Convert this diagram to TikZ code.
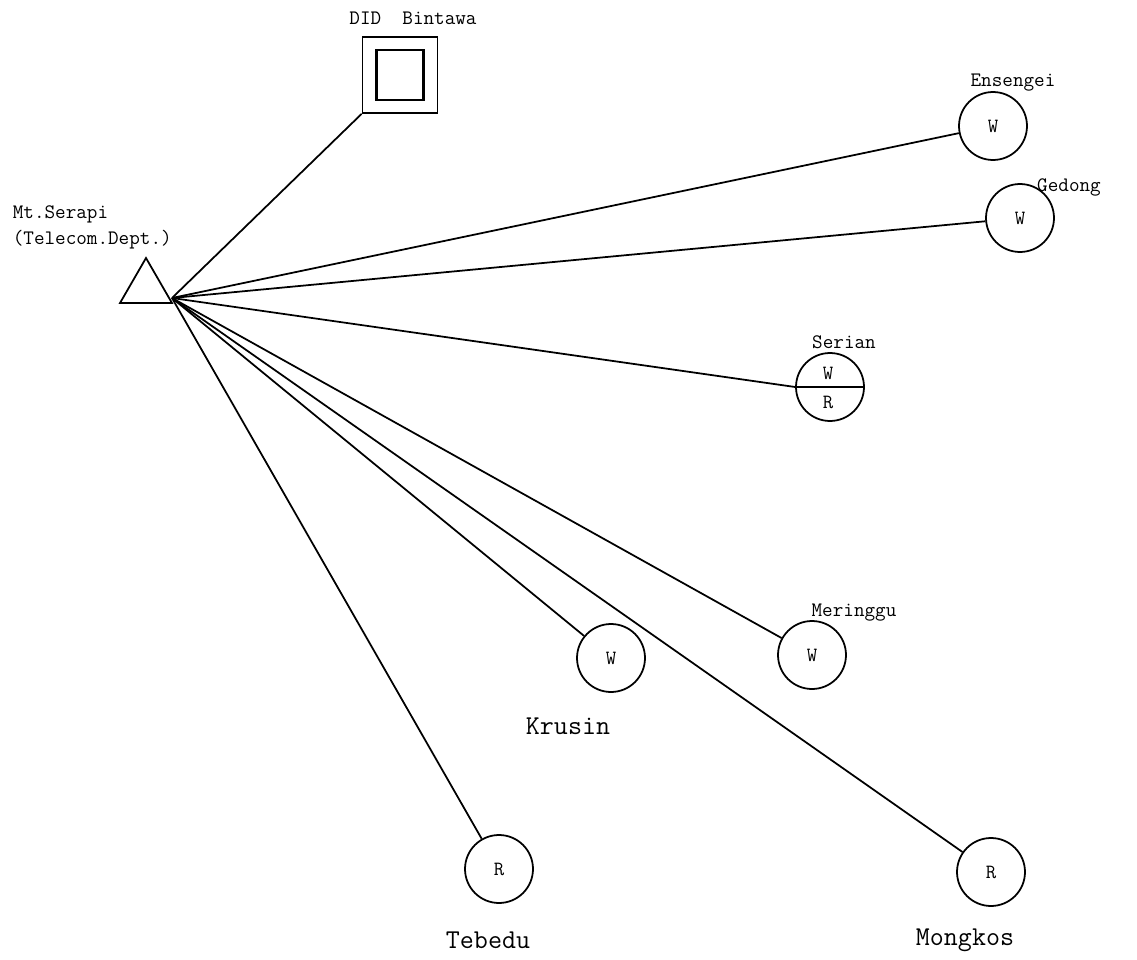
\documentclass[tikz,border=0pt]{standalone}
\usetikzlibrary{shapes.geometric, positioning}

\begin{document}
\begin{tikzpicture}[x=0.02cm, y=-0.02cm, line width=1pt,
  stn/.style={circle, draw, minimum size=1.36cm, inner sep=0pt, font=\ttfamily\fontsize{11.5}{12}\selectfont},
  lbl/.style={inner sep=0pt, font=\ttfamily\fontsize{11.7}{14.8}\selectfont},
  biglbl/.style={inner sep=0pt, font=\ttfamily\fontsize{15.5}{18}\selectfont}]
  \useasboundingbox (0,0) rectangle (1137,960);

  % transmitter
  \node[regular polygon, regular polygon sides=3, draw, minimum size=1.2cm, inner sep=0pt] (serapi) at (146,288) {};
  \coordinate (hub) at (172,298);
  \node[lbl, anchor=west, align=left] (serapiLbl) at (12,227) {Mt.Serapi\\(Telecom.Dept.)};

  % DID station
  \node[rectangle, draw, minimum width=1.5cm, minimum height=1.52cm] (did) at (400,75) {};
  \node[rectangle, draw, line width=1.3pt, minimum width=0.94cm, minimum height=1cm] (didIn) at (400,75) {};
  \node[lbl] (didLbl) at (413,18) {DID\ \ Bintawa};

  % stations
  \node[stn] (ensengei) at (993,126) {W};
  \node[stn] (gedong) at (1020,218) {W};
  \node[stn] (serian) at (830,387) {};
  \node[stn] (meringgu) at (812,655) {W};
  \node[stn] (krusin) at (611,658) {W};
  \node[stn] (tebedu) at (499,869) {R};
  \node[stn] (mongkos) at (991,872) {R};
  \draw (serian.west) -- (serian.east);
  \node[inner sep=0pt, font=\ttfamily\fontsize{11.5}{12}\selectfont] (serianW) at (828,373) {W};
  \node[inner sep=0pt, font=\ttfamily\fontsize{11.5}{12}\selectfont] (serianR) at (828,402) {R};

  \node[lbl] (ensengeiLbl) at (1013,83) {Ensengei};
  \node[lbl] (gedongLbl) at (1069,187) {Gedong};
  \node[lbl] (serianLbl) at (844,342) {Serian};
  \node[lbl] (meringguLbl) at (854,613) {Meringgu};
  \node[biglbl] (krusinLbl) at (568,726) {Krusin};
  \node[biglbl] (tebeduLbl) at (488,940) {Tebedu};
  \node[biglbl] (mongkosLbl) at (965,940) {Mongkos};

  % links
  \draw (hub) -- (did.south west);
  \draw (hub) -- (ensengei);
  \draw (hub) -- (gedong);
  \draw (hub) -- (serian.west);
  \draw (hub) -- (meringgu);
  \draw (hub) -- (krusin);
  \draw (hub) -- (tebedu);
  \draw (hub) -- (mongkos);
\end{tikzpicture}
\end{document}
